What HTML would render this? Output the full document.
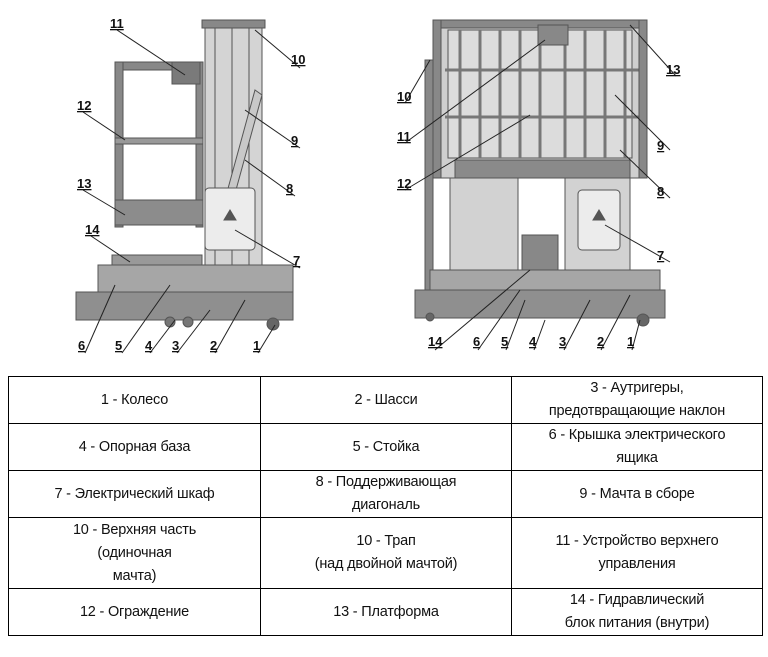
<!DOCTYPE html>
<html><head><meta charset="utf-8"><style>
body{margin:0;width:768px;height:657px;background:#fff;overflow:hidden;font-family:"Liberation Sans","DejaVu Sans",sans-serif;}
svg{position:absolute;left:0;top:0}
table{position:absolute;left:8px;top:376px;border-collapse:collapse;}
td{border:1.5px solid #000;text-align:center;font-size:14.5px;line-height:23px;padding:0;color:#111;letter-spacing:-0.2px}
</style></head><body>
<svg width="768" height="376" viewBox="0 0 768 376">
<g fill="#9a9a9a" stroke="#555" stroke-width="1">
<!-- left machine -->
<rect x="115" y="62" width="88" height="8" fill="#888"/>
<rect x="115" y="62" width="8" height="165" fill="#888"/>
<rect x="196" y="62" width="7" height="165" fill="#888"/>
<rect x="115" y="138" width="88" height="6" fill="#999"/>
<rect x="115" y="200" width="88" height="25" fill="#8c8c8c"/>
<rect x="172" y="62" width="28" height="22" fill="#7a7a7a"/>
<rect x="202" y="20" width="63" height="8" fill="#888"/>
<rect x="205" y="28" width="57" height="262" fill="#d4d4d4"/>
<line x1="215" y1="28" x2="215" y2="290"/><line x1="232" y1="28" x2="232" y2="290"/><line x1="249" y1="28" x2="249" y2="290"/>
<polygon points="255,90 262,95 225,230 218,225" fill="#c8c8c8"/>
<rect x="205" y="188" width="50" height="62" rx="4" fill="#ececec"/>
<polygon points="230,210 236,220 224,220" fill="#555"/>
<rect x="112" y="255" width="90" height="35" fill="#999"/>
<rect x="98" y="265" width="195" height="30" fill="#a6a6a6"/>
<rect x="76" y="292" width="217" height="28" fill="#8f8f8f"/>
<circle cx="273" cy="324" r="6" fill="#666"/>
<circle cx="170" cy="322" r="5" fill="#777"/><circle cx="188" cy="322" r="5" fill="#777"/>
<!-- right machine -->
<rect x="433" y="20" width="214" height="158" fill="#cfcfcf"/>
<rect x="448" y="30" width="184" height="128" fill="#dcdcdc"/>
<g stroke="#777" stroke-width="3">
<line x1="445" y1="70" x2="645" y2="70"/><line x1="445" y1="117" x2="645" y2="117"/>
<line x1="460" y1="30" x2="460" y2="158"/><line x1="480" y1="30" x2="480" y2="158"/><line x1="500" y1="30" x2="500" y2="158"/><line x1="520" y1="30" x2="520" y2="158"/><line x1="540" y1="30" x2="540" y2="158"/><line x1="565" y1="30" x2="565" y2="158"/><line x1="585" y1="30" x2="585" y2="158"/><line x1="605" y1="30" x2="605" y2="158"/><line x1="625" y1="30" x2="625" y2="158"/>
</g>
<rect x="433" y="20" width="214" height="8" fill="#888"/>
<rect x="538" y="25" width="30" height="20" fill="#888"/>
<rect x="433" y="20" width="8" height="158" fill="#888"/><rect x="639" y="20" width="8" height="158" fill="#888"/>
<rect x="455" y="160" width="175" height="18" fill="#8a8a8a"/>
<rect x="425" y="60" width="8" height="230" fill="#888"/>
<rect x="450" y="178" width="68" height="112" fill="#d2d2d2"/>
<rect x="565" y="178" width="65" height="112" fill="#d2d2d2"/>
<rect x="578" y="190" width="42" height="60" rx="4" fill="#ececec"/>
<polygon points="599,210 605,220 593,220" fill="#555"/>
<rect x="522" y="235" width="36" height="60" fill="#888"/>
<rect x="430" y="270" width="230" height="22" fill="#a6a6a6"/>
<rect x="415" y="290" width="250" height="28" fill="#8f8f8f"/>
<circle cx="643" cy="320" r="6" fill="#666"/><circle cx="430" cy="317" r="4" fill="#666"/>
</g>
<g stroke="#222" stroke-width="1" fill="none">
<line x1="117" y1="30" x2="185" y2="75"/><line x1="300" y1="68" x2="255" y2="30"/>
<line x1="83" y1="112" x2="125" y2="140"/><line x1="300" y1="148" x2="245" y2="110"/>
<line x1="83" y1="190" x2="125" y2="215"/><line x1="295" y1="196" x2="245" y2="160"/>
<line x1="91" y1="236" x2="130" y2="262"/><line x1="300" y1="268" x2="235" y2="230"/>
<line x1="85" y1="353" x2="115" y2="285"/><line x1="122" y1="353" x2="170" y2="285"/>
<line x1="150" y1="353" x2="175" y2="320"/><line x1="177" y1="353" x2="210" y2="310"/>
<line x1="215" y1="353" x2="245" y2="300"/><line x1="258" y1="353" x2="275" y2="325"/>
<line x1="676" y1="76" x2="630" y2="25"/><line x1="405" y1="103" x2="430" y2="60"/>
<line x1="405" y1="143" x2="545" y2="40"/><line x1="670" y1="150" x2="615" y2="95"/>
<line x1="405" y1="190" x2="530" y2="115"/><line x1="670" y1="198" x2="620" y2="150"/>
<line x1="670" y1="262" x2="605" y2="225"/><line x1="435" y1="350" x2="530" y2="270"/>
<line x1="478" y1="350" x2="520" y2="290"/><line x1="506" y1="350" x2="525" y2="300"/>
<line x1="534" y1="350" x2="545" y2="320"/><line x1="564" y1="350" x2="590" y2="300"/>
<line x1="601" y1="350" x2="630" y2="295"/><line x1="632" y1="350" x2="640" y2="320"/>
</g>
<g font-family="Liberation Sans,sans-serif" font-size="13" font-weight="bold" fill="#111" text-decoration="underline">
<text x="110" y="28">11</text><text x="291" y="64">10</text><text x="77" y="110">12</text><text x="291" y="145">9</text>
<text x="77" y="188">13</text><text x="286" y="193">8</text><text x="85" y="234">14</text><text x="293" y="265">7</text>
<text x="78" y="350">6</text><text x="115" y="350">5</text><text x="145" y="350">4</text><text x="172" y="350">3</text><text x="210" y="350">2</text><text x="253" y="350">1</text>
<text x="666" y="74">13</text><text x="397" y="101">10</text><text x="397" y="141">11</text><text x="657" y="150">9</text>
<text x="397" y="188">12</text><text x="657" y="196">8</text><text x="657" y="260">7</text>
<text x="428" y="346">14</text><text x="473" y="346">6</text><text x="501" y="346">5</text><text x="529" y="346">4</text><text x="559" y="346">3</text><text x="597" y="346">2</text><text x="627" y="346">1</text>
</g>
</svg>
<table>
<tr style="height:47px"><td style="width:251px">1 - Колесо</td><td style="width:250px">2 - Шасси</td><td style="width:250px">3 - Аутригеры,<br>предотвращающие наклон</td></tr>
<tr style="height:47px"><td>4 - Опорная база</td><td>5 - Стойка</td><td>6 - Крышка электрического<br>ящика</td></tr>
<tr style="height:47px"><td>7 - Электрический шкаф</td><td>8 - Поддерживающая<br>диагональ</td><td>9 - Мачта в сборе</td></tr>
<tr style="height:71px"><td>10 - Верхняя часть<br>(одиночная<br>мачта)</td><td>10 - Трап<br>(над двойной мачтой)</td><td>11 - Устройство верхнего<br>управления</td></tr>
<tr style="height:47px"><td>12 - Ограждение</td><td>13 - Платформа</td><td>14 - Гидравлический<br>блок питания (внутри)</td></tr>
</table>
</body></html>
